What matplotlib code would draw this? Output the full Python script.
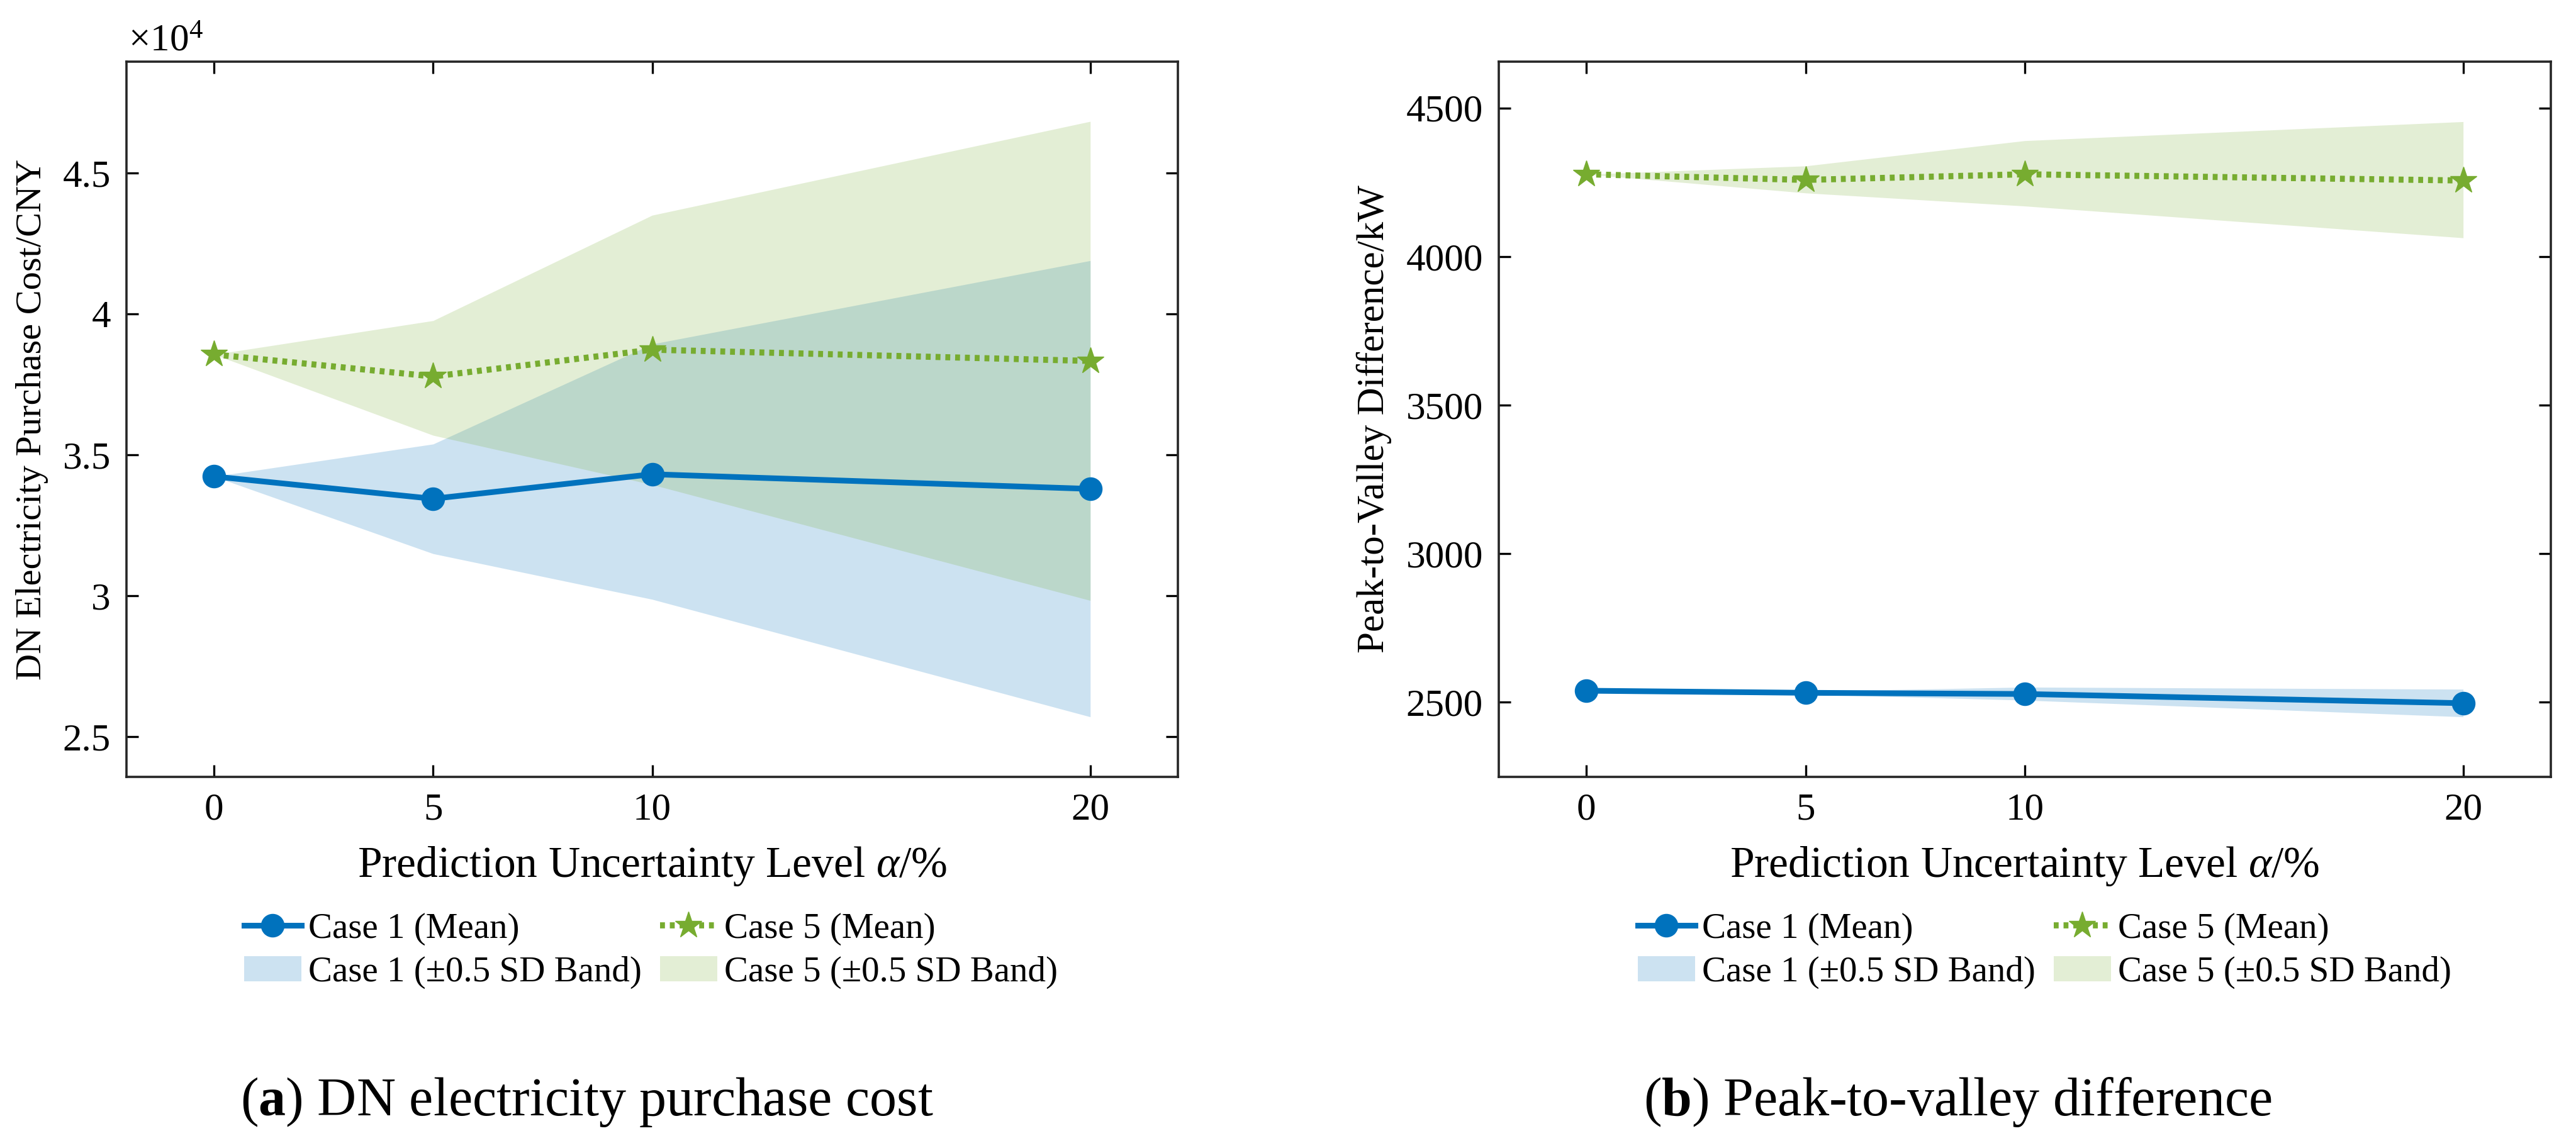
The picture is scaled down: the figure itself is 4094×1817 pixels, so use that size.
import matplotlib
matplotlib.use("Agg")
import matplotlib.pyplot as plt
from matplotlib.ticker import FuncFormatter
from matplotlib.patches import Patch
from matplotlib.lines import Line2D
import numpy as np

plt.rcParams["font.family"] = ["Liberation Serif", "DejaVu Serif"]
plt.rcParams["mathtext.fontset"] = "custom"
plt.rcParams["mathtext.rm"] = "Liberation Serif"
plt.rcParams["mathtext.it"] = "Liberation Serif:italic"
plt.rcParams["mathtext.bf"] = "Liberation Serif:bold"

# ---------- data ----------
alpha_levels = [0, 5, 10, 20]

# (a) DN electricity purchase cost, CNY
cost_case1_mean = [34230, 33440, 34310, 33790]
cost_case1_low = [34230, 31490, 29870, 25700]
cost_case1_high = [34230, 35380, 38930, 41890]
cost_case5_mean = [38560, 37780, 38730, 38330]
cost_case5_low = [38560, 35690, 33940, 29830]
cost_case5_high = [38560, 39760, 43500, 46830]

# (b) peak-to-valley difference, kW
pv_case1_mean = [2539, 2532, 2528, 2497]
pv_case1_low = [2539, 2527, 2507, 2451]
pv_case1_high = [2539, 2537, 2551, 2544]
pv_case5_mean = [4277, 4258, 4277, 4256]
pv_case5_low = [4277, 4214, 4170, 4063]
pv_case5_high = [4277, 4305, 4390, 4454]

blue = "#0072BD"
green = "#77AC30"

W, H = 4094, 1817
fig = plt.figure(figsize=(W / 100, H / 100), dpi=100)

ax1 = fig.add_axes([201 / W, 1 - 1235 / H, (1872 - 201) / W, (1235 - 98) / H])
ax2 = fig.add_axes([2382 / W, 1 - 1235 / H, (4054 - 2382) / W, (1235 - 98) / H])

line1_kw = dict(color=blue, lw=6.5, marker="o", ms=26)
line5_kw = dict(color=green, lw=7, ls=(0, (0.8, 0.8)), dash_capstyle="butt",
                marker="*", ms=32)


def draw(ax, c1m, c1l, c1h, c5m, c5l, c5h):
    ax.fill_between(alpha_levels, c1l, c1h, color=blue, alpha=0.2, lw=0)
    ax.fill_between(alpha_levels, c5l, c5h, color=green, alpha=0.2, lw=0)
    ax.plot(alpha_levels, c1m, **line1_kw)
    ax.plot(alpha_levels, c5m, **line5_kw)
    ax.set_xlim(-2, 22)
    ax.set_xticks(alpha_levels)
    ax.tick_params(direction="in", top=True, right=True, labelsize=44,
                   length=14, width=2.4, pad=18)
    for s in ax.spines.values():
        s.set_linewidth(2.6)
        s.set_color("#262626")
    ax.set_xlabel(r"Prediction Uncertainty Level $\alpha$/%", fontsize=50, labelpad=20)


draw(ax1, cost_case1_mean, cost_case1_low, cost_case1_high,
     cost_case5_mean, cost_case5_low, cost_case5_high)
ax1.set_ylim(23570, 48950)
ax1.set_yticks([25000, 30000, 35000, 40000, 45000])
ax1.yaxis.set_major_formatter(FuncFormatter(lambda v, p: "%g" % (v / 1e4)))
ax1.set_ylabel("DN Electricity Purchase Cost/CNY", fontsize=42, labelpad=16)
ax1.text(0.002, 1.004, r"$\times10^4$", transform=ax1.transAxes, fontsize=44,
         ha="left", va="bottom")

draw(ax2, pv_case1_mean, pv_case1_low, pv_case1_high,
     pv_case5_mean, pv_case5_low, pv_case5_high)
ax2.set_ylim(2249, 4656)
ax2.set_yticks([2500, 3000, 3500, 4000, 4500])
ax2.set_ylabel("Peak-to-Valley Difference/kW", fontsize=44, labelpad=16)

handles = [
    Line2D([], [], **line1_kw),
    Patch(facecolor=blue, alpha=0.2, lw=0),
    Line2D([], [], **line5_kw),
    Patch(facecolor=green, alpha=0.2, lw=0),
]
labels = ["Case 1 (Mean)", "Case 1 (\u00b10.5 SD Band)",
          "Case 5 (Mean)", "Case 5 (\u00b10.5 SD Band)"]

for xa in (365 / W, 2580 / W):
    fig.legend(handles, labels, ncol=2, loc="upper left",
               bbox_to_anchor=(xa, 1 - 1428 / H), frameon=False, fontsize=41,
               handlelength=1.6, handletextpad=0.2, columnspacing=0.5,
               labelspacing=0.3, borderaxespad=0)

fig.text(933 / W, 1 - 1752 / H, r"($\mathbf{a}$) DN electricity purchase cost",
         fontsize=62, ha="center", va="center")
fig.text(3111 / W, 1 - 1752 / H, r"($\mathbf{b}$) Peak-to-valley difference",
         fontsize=62, ha="center", va="center")

fig.savefig("out.png", dpi=100, facecolor="white")
